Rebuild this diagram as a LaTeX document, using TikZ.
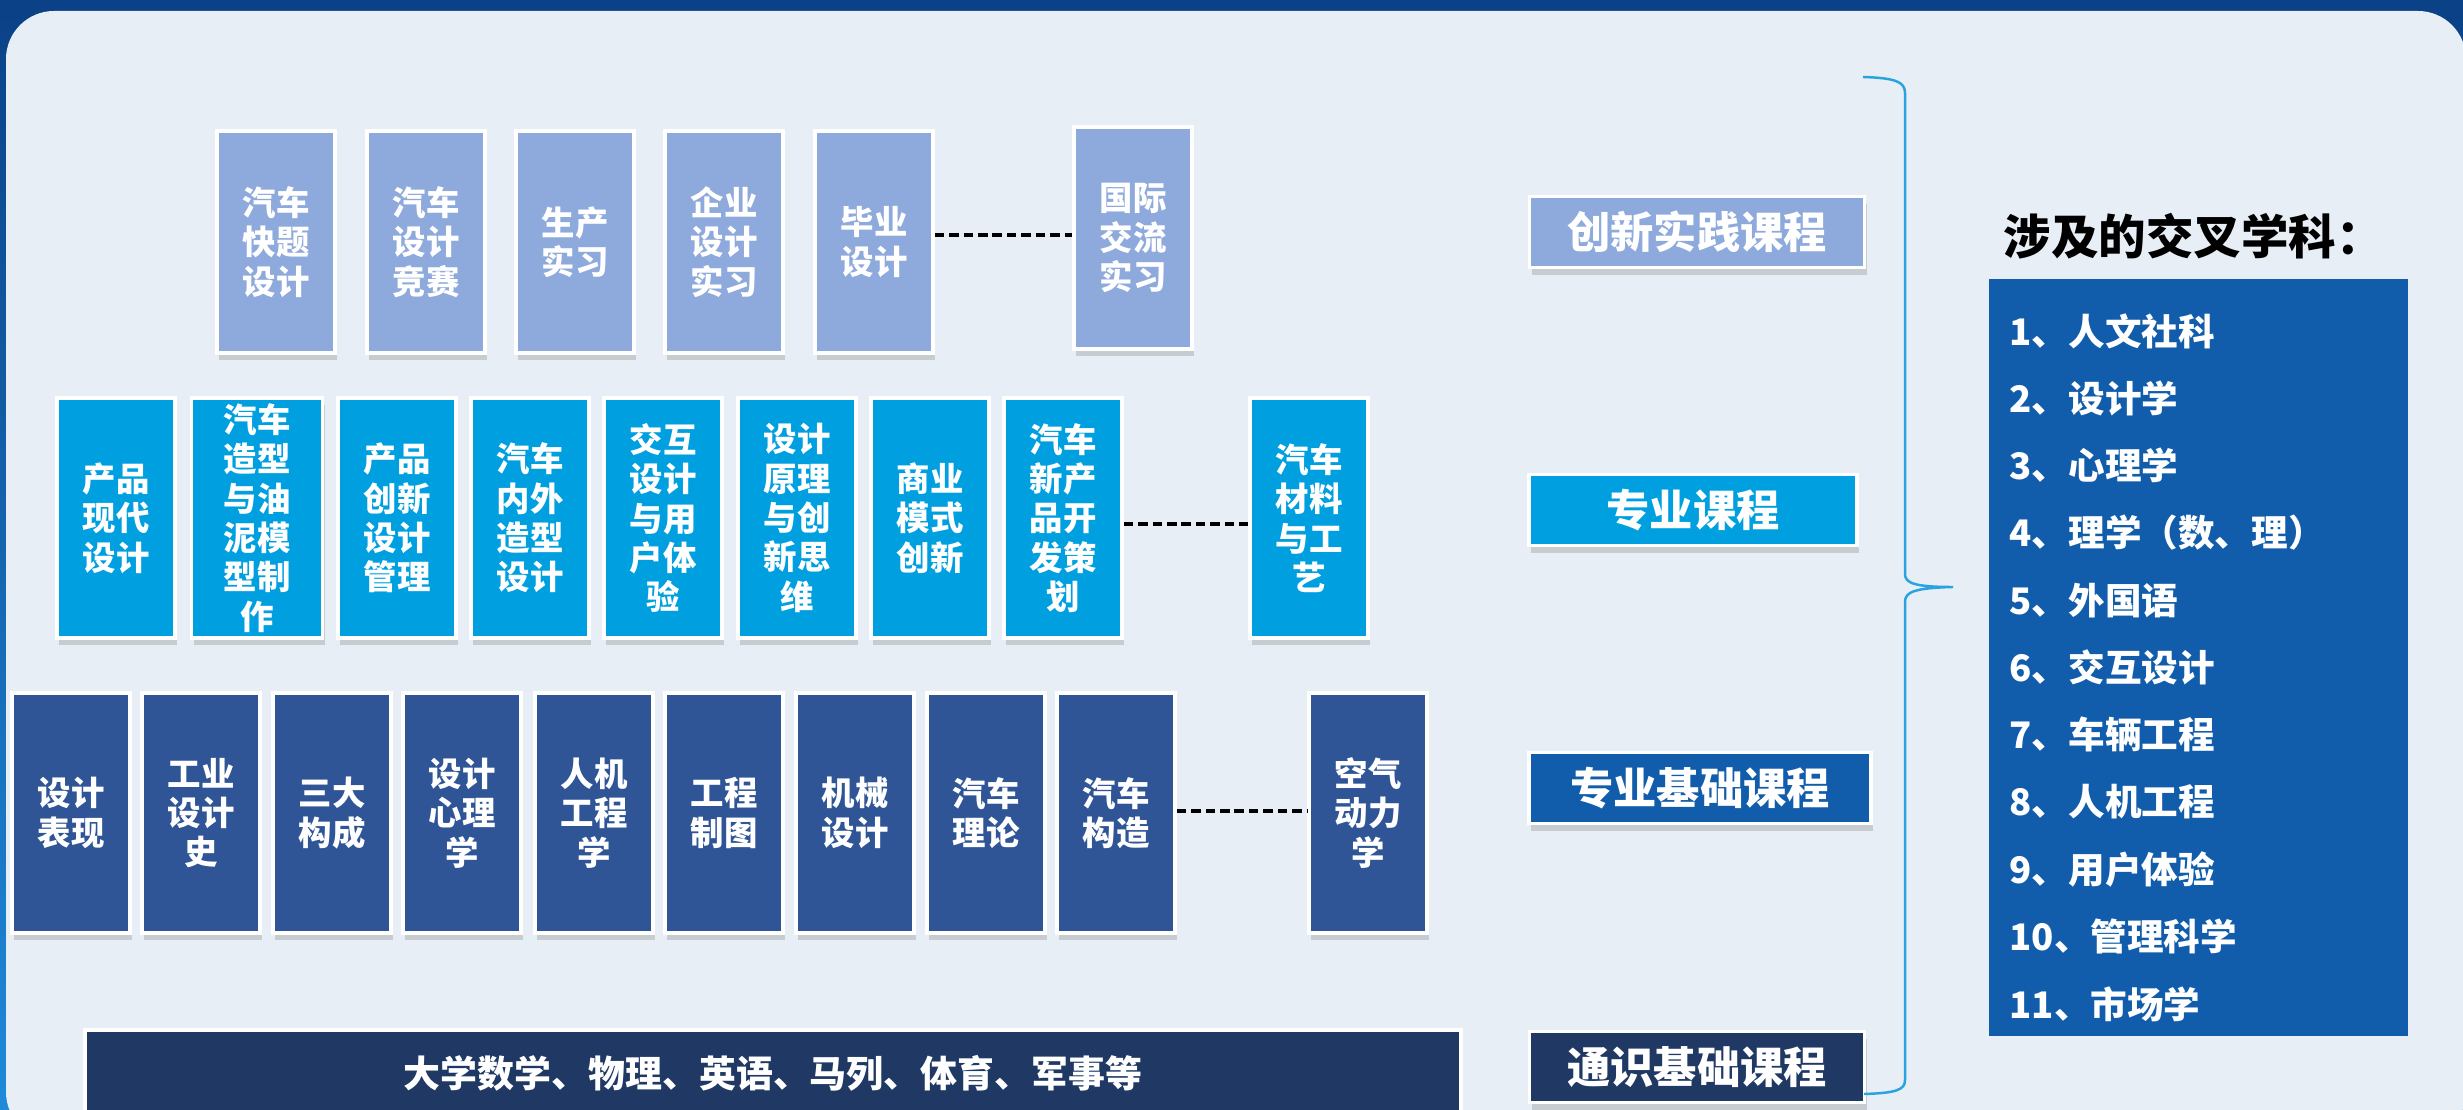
\documentclass[tikz,border=0pt]{standalone}
\usepackage{fontspec}
\usepackage{xcolor}
\usepackage{tikz}
\usetikzlibrary{shadows}
\newfontfamily\cjk{Noto Sans CJK SC}
\definecolor{panelbg}{HTML}{E7EEF5}
\definecolor{frametop}{HTML}{0B4186}
\definecolor{framebot}{HTML}{1E8ADA}
\definecolor{shijian}{HTML}{8EA9DB}
\definecolor{zhuanye}{HTML}{00A0E0}
\definecolor{jichu}{HTML}{2F5597}
\definecolor{tongshi}{HTML}{1F3864}
\definecolor{xueke}{HTML}{115DAB}
\definecolor{bracecol}{HTML}{29A3E0}

\begin{document}
\begin{tikzpicture}[x=0.01cm,y=-0.01cm,
  box/.style={draw=white,line width=1pt,text=white,align=center,inner sep=0pt,
    minimum width=1.18cm,minimum height=2.4cm,
    font=\cjk\bfseries\fontsize{9.5}{11.2}\selectfont,
    drop shadow={shadow xshift=0.6pt,shadow yshift=-2pt,opacity=0.3}},
  label/.style={draw=white,line width=1pt,text=white,inner sep=0pt,minimum height=0.71cm,
    font=\cjk\bfseries\fontsize{12.3}{14}\selectfont,
    drop shadow={shadow xshift=0.6pt,shadow yshift=-2pt,opacity=0.3}},
  dashline/.style={black,line width=1.2pt,dash pattern=on 2.7pt off 1.4pt},
  item/.style={anchor=west,text=white,inner sep=0pt,font=\cjk\bfseries\fontsize{10.4}{12}\selectfont}]
\useasboundingbox (0,0) rectangle (2463,1110);
\shade[top color=frametop,bottom color=framebot] (0,0) rectangle (2463,1110);
\fill[panelbg,rounded corners=0.48cm] (6,11) rectangle (2466,1140);

% innovation practice
\node (a1) at ( 276,242) [box,fill=shijian,minimum height=2.22cm] {汽车\\快题\\设计};
\node (a2) at ( 426,242) [box,fill=shijian,minimum height=2.22cm] {汽车\\设计\\竞赛};
\node (a3) at ( 575,242) [box,fill=shijian,minimum height=2.22cm] {生产\\实习};
\node (a4) at ( 724,242) [box,fill=shijian,minimum height=2.22cm] {企业\\设计\\实习};
\node (a5) at ( 874,242) [box,fill=shijian,minimum height=2.22cm] {毕业\\设计};
\node (a6) at (1133,238) [box,fill=shijian,minimum height=2.22cm] {国际\\交流\\实习};
\draw[dashline] (a5.east |- 0,235) -- (a6.west |- 0,235);

% professional courses
\node (b1) at ( 116,518) [box,fill=zhuanye] {产品\\现代\\设计};
\node (b2) at ( 257,518) [box,fill=zhuanye,minimum width=1.31cm] {汽车\\造型\\与油\\泥模\\型制\\作};
\node (b3) at ( 397,518) [box,fill=zhuanye] {产品\\创新\\设计\\管理};
\node (b4) at ( 530,518) [box,fill=zhuanye] {汽车\\内外\\造型\\设计};
\node (b5) at ( 663,518) [box,fill=zhuanye] {交互\\设计\\与用\\户体\\验};
\node (b6) at ( 797,518) [box,fill=zhuanye] {设计\\原理\\与创\\新思\\维};
\node (b7) at ( 930,518) [box,fill=zhuanye] {商业\\模式\\创新};
\node (b8) at (1063,518) [box,fill=zhuanye] {汽车\\新产\\品开\\发策\\划};
\node (b9) at (1309,518) [box,fill=zhuanye] {汽车\\材料\\与工\\艺};
\draw[dashline] (b8.east |- 0,524) -- (b9.west |- 0,524);

% professional basics
\node (c1)  at (  71,813) [box,fill=jichu] {设计\\表现};
\node (c2)  at ( 201,813) [box,fill=jichu] {工业\\设计\\史};
\node (c3)  at ( 332,813) [box,fill=jichu] {三大\\构成};
\node (c4)  at ( 462,813) [box,fill=jichu] {设计\\心理\\学};
\node (c5)  at ( 594,813) [box,fill=jichu] {人机\\工程\\学};
\node (c6)  at ( 724,813) [box,fill=jichu] {工程\\制图};
\node (c7)  at ( 855,813) [box,fill=jichu] {机械\\设计};
\node (c8)  at ( 986,813) [box,fill=jichu] {汽车\\理论};
\node (c9)  at (1116,813) [box,fill=jichu] {汽车\\构造};
\node (c10) at (1368,813) [box,fill=jichu] {空气\\动力\\学};
\draw[dashline] (c9.east |- 0,811) -- (c10.west |- 0,811);

% general basics
\node (d1) at (773,1073) [box,fill=tongshi,minimum width=13.75cm,minimum height=0.86cm,
  font=\cjk\bfseries\fontsize{10.5}{12}\selectfont] {大学数学、物理、英语、马列、体育、军事等};

% course levels
\node (l1) at (1697,232) [label,fill=shijian,minimum width=3.35cm] {创新实践课程};
\node (l2) at (1693,510) [label,fill=zhuanye,minimum width=3.28cm] {专业课程};
\node (l3) at (1700,788) [label,fill=xueke,minimum width=3.42cm] {专业基础课程};
\node (l4) at (1697,1067) [label,fill=tongshi,minimum width=3.35cm] {通识基础课程};

% brace
\draw[bracecol,line width=0.7pt] (1863,77) .. controls (1896,78) and (1905,82) .. (1905,93)
  -- (1905,574) .. controls (1905,583) and (1914,587) .. (1953,587)
  .. controls (1914,588) and (1905,592) .. (1905,602)
  -- (1905,1080) .. controls (1905,1090) and (1896,1093) .. (1864,1094);

% disciplines
\node (t) at (2003,236) [anchor=west,inner sep=0pt,font=\cjk\bfseries\fontsize{13.5}{15}\selectfont] {涉及的交叉学科：};
\node (k) at (1988,278) [anchor=north west,fill=xueke,minimum width=4.19cm,minimum height=7.57cm,inner sep=0pt] {};
\foreach \t [count=\i] in {1、人文社科,2、设计学,3、心理学,4、理学（数、理）,5、外国语,6、交互设计,7、车辆工程,8、人机工程,9、用户体验,10、管理科学,11、市场学}
  \node (k\i) at (2009,{331+67.3*(\i-1)}) [item] {\t};
\end{tikzpicture}
\end{document}
